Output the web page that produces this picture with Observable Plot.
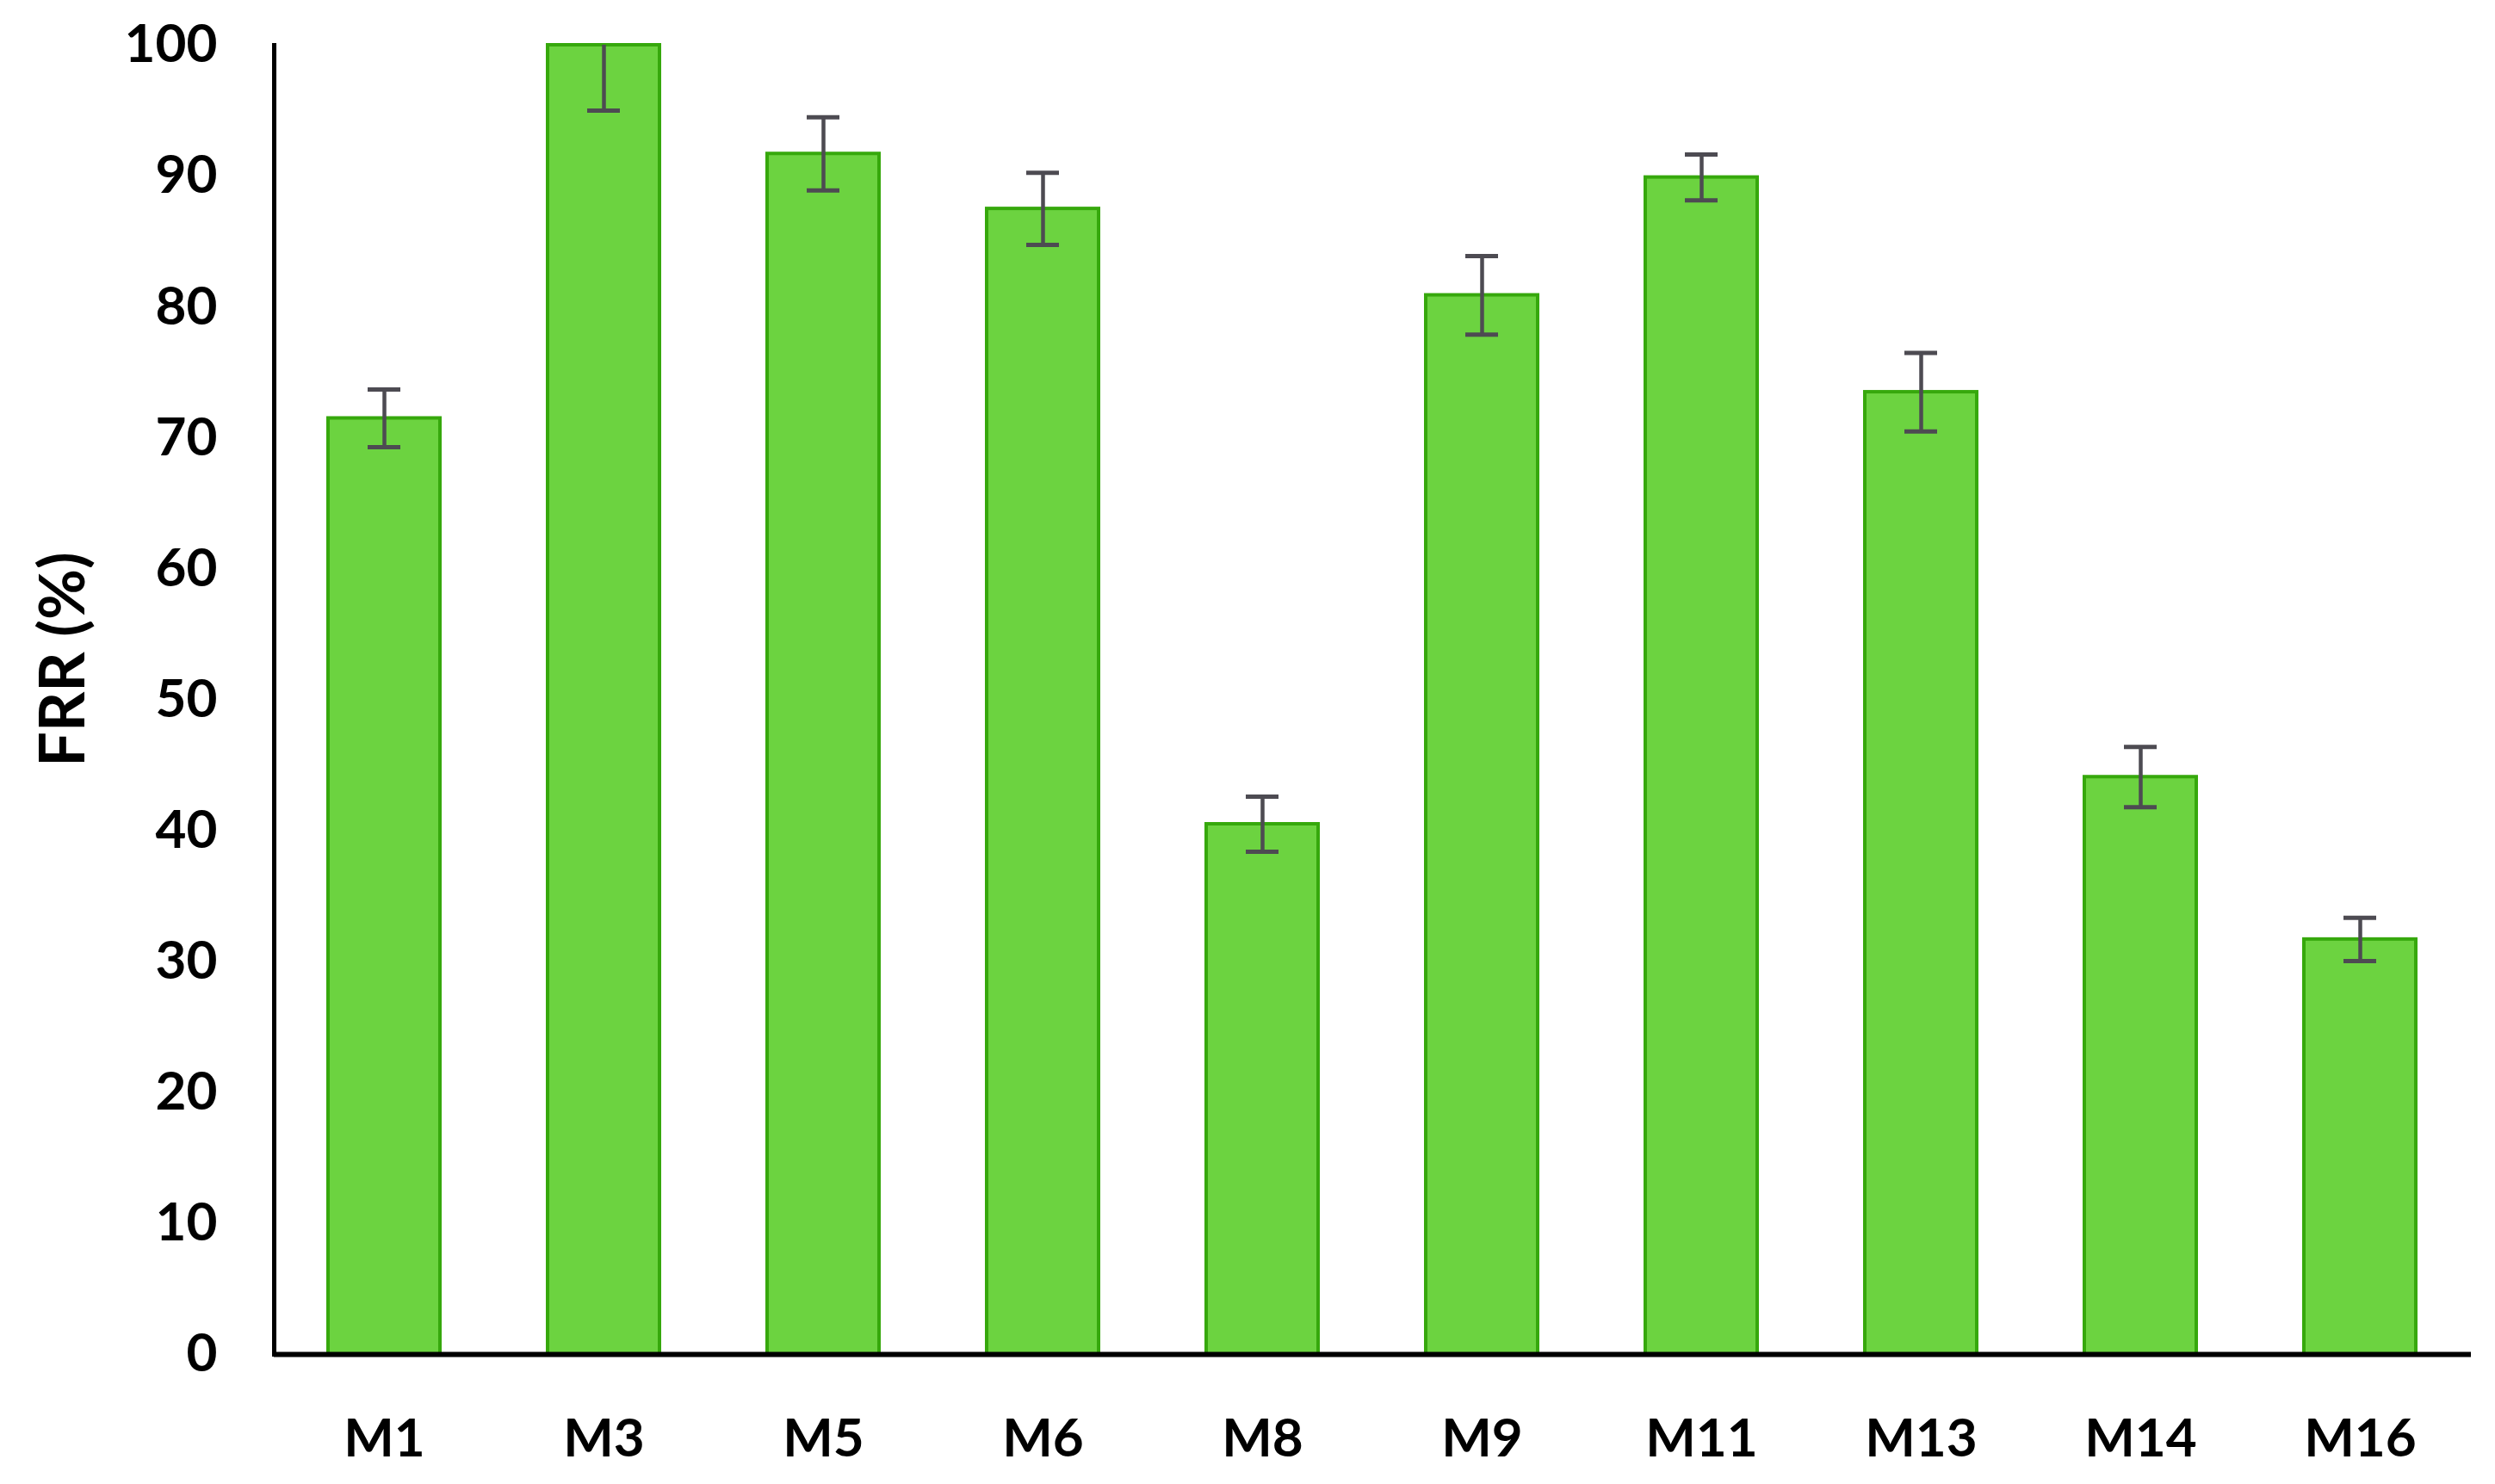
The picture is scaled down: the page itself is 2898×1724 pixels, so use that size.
<!DOCTYPE html>
<html>
<head>
<meta charset="utf-8">
<script src="https://cdn.jsdelivr.net/npm/d3@7"></script>
<script src="https://cdn.jsdelivr.net/npm/@observablehq/plot@0.6"></script>
<style>
  html, body { margin: 0; padding: 0; background: #fff; }
  #chart svg { display: block; }
</style>
</head>
<body>
<div id="chart"></div>
<script>
const categories = ["M1", "M3", "M5", "M6", "M8", "M9", "M11", "M13", "M14", "M16"];
const frr = [71.5, 100, 91.7, 87.5, 40.5, 80.9, 89.9, 73.5, 44.1, 31.7];
const errors = [2.2, 5.0, 2.8, 2.75, 2.1, 3.0, 1.75, 3.0, 2.3, 1.65];
const yTicks = [0, 10, 20, 30, 40, 50, 60, 70, 80, 90, 100];
const yTitle = "FRR (%)";

const data = categories.map((c, i) => ({name: c, value: frr[i], err: errors[i]}));

const font = "Lato, 'Open Sans', sans-serif";

const chart = Plot.plot({
  width: 2898,
  height: 1724,
  marginLeft: 318,
  marginRight: 28,
  marginTop: 52,
  marginBottom: 151,
  style: {fontFamily: font, fontWeight: "bold", fontSize: "62px", color: "#000", background: "#fff"},
  x: {domain: categories, paddingInner: 0.49, paddingOuter: 0.245, label: null},
  y: {domain: [0, 100], label: null},
  marks: [
    Plot.barY(data, {x: "name", y: "value", fill: "#6cd340", stroke: "#36a80c", strokeWidth: 4}),
    Plot.ruleX(data, {x: "name", y1: d => d.value - d.err, y2: d => d.value + d.err, stroke: "#4d4b52", strokeWidth: 4.5, clip: true}),
    Plot.tickY(data, {x: "name", y: d => d.value - d.err, stroke: "#4d4b52", strokeWidth: 5, insetLeft: 46, insetRight: 46, clip: true}),
    Plot.tickY(data, {x: "name", y: d => d.value + d.err, stroke: "#4d4b52", strokeWidth: 5, insetLeft: 46, insetRight: 46, clip: true}),
    Plot.frame({anchor: "left", stroke: "#000", strokeWidth: 5}),
    Plot.ruleY([0], {stroke: "#000", strokeWidth: 6}),
    Plot.axisY({ticks: yTicks, tickSize: 0, tickPadding: 66, label: null, fontSize: 62, fontWeight: "bold"}),
    Plot.axisX({tickSize: 0, tickPadding: 74, label: null, fontSize: 62, fontWeight: "bold"}),
    Plot.text([yTitle], {frameAnchor: "left", textAnchor: "middle", dx: -244, dy: -47, rotate: -90, fontSize: 72, fontWeight: "bold", fill: "#000"})
  ]
});

document.getElementById("chart").appendChild(chart);
</script>
</body>
</html>
